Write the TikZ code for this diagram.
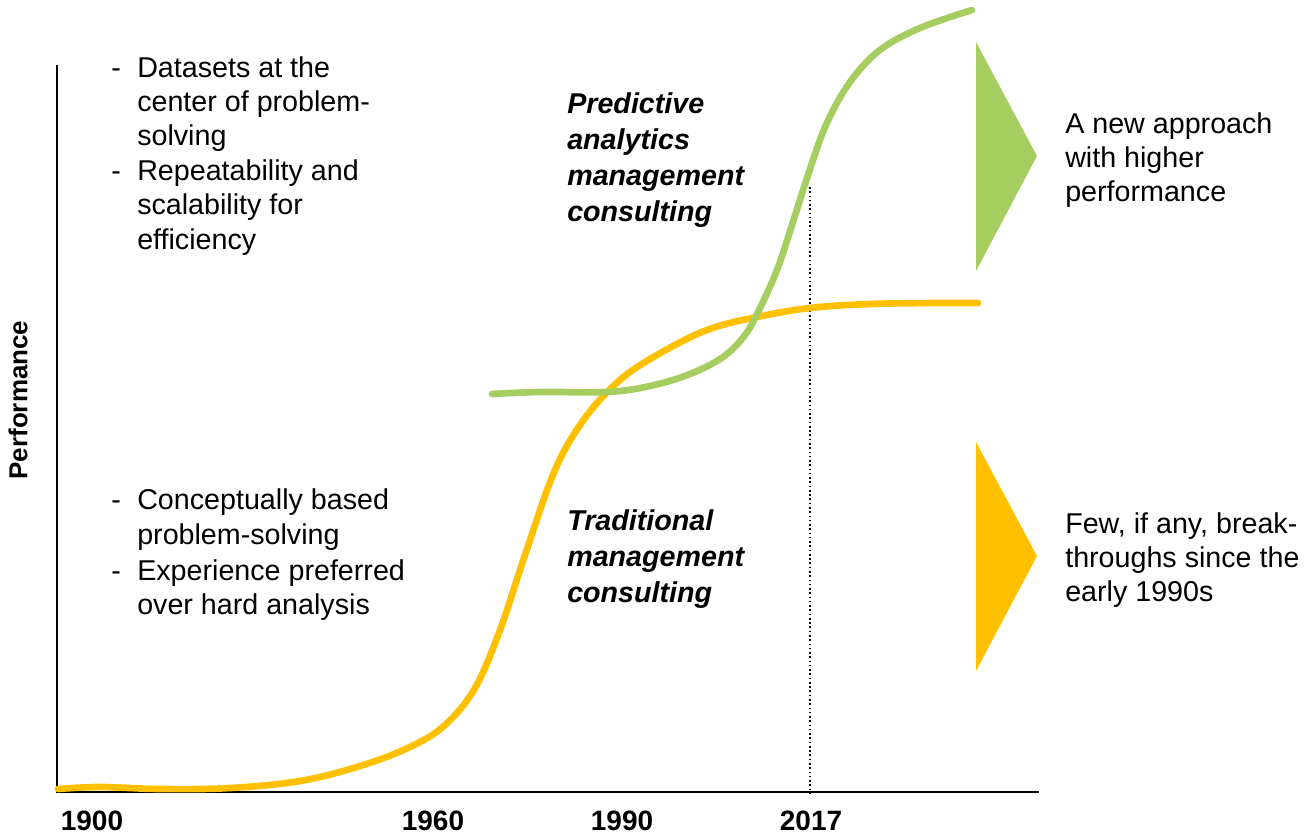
\documentclass[tikz,border=0pt]{standalone}
\usepackage{fontspec}
\setmainfont{Liberation Sans}
\definecolor{cgreen}{HTML}{A5CD5F}
\definecolor{cyellow}{HTML}{FFC000}
\begin{document}
\begin{tikzpicture}[x=0.75pt,y=-0.75pt,
  txt/.style={anchor=base west,inner sep=0pt,font=\fontsize{21.5}{25.5}\selectfont},
  btxt/.style={txt,font=\fontsize{21.5}{25.5}\selectfont\bfseries\itshape},
  yr/.style={anchor=base,inner sep=0pt,font=\fontsize{21}{25}\selectfont\bfseries},
  curve/.style={line width=5pt,line cap=round,line join=round}]
\useasboundingbox (0,0) rectangle (1309,836);
% axes
\coordinate (o) at (57,792);
\coordinate (ytop) at (57,65);
\coordinate (xend) at (1039,792);
\draw[line width=1.2pt] (ytop) -- (o) -- (xend);
\node[rotate=90,inner sep=0pt,font=\fontsize{19.5}{23}\selectfont\bfseries] (perf) at (18,400) {Performance};
% year labels
\node[yr] (y1900) at (92,830) {1900};
\node[yr] (y1960) at (433,830) {1960};
\node[yr] (y1990) at (622,830) {1990};
\node[yr] (y2017) at (811,830) {2017};
% dotted line
\coordinate (dtop) at (810,187);
\coordinate (dbot) at (810,795);
\draw[line width=1.2pt,dotted] (dtop) -- (dbot);
% yellow curve
\draw[curve,cyellow] plot[smooth,tension=0.6] coordinates {(58,789) (100,787) (160,789) (230,788) (300,781) (360,766) (410,747) (445,725) (475,688) (500,630) (525,555) (555,470) (585,418) (620,380) (657,355) (707,330) (757,317) (810,308) (870,304) (940,303) (978,303)};
% green curve
\draw[curve,cgreen] plot[smooth,tension=0.6] coordinates {(492,394) (540,392) (607,392) (650,386) (690,374) (723,357) (745,335) (760,308) (777,270) (792,225) (808,175) (826,125) (850,82) (880,50) (920,28) (972,10)};
% triangles
\fill[cgreen] (976,42) -- (1037,156) -- (976,271) -- cycle;
\fill[cyellow] (976,442) -- (1037,556) -- (976,671) -- cycle;
% right texts
\node[txt] (g1) at (1065,133) {A new approach};
\node[txt] (g2) at (1065,167) {with higher};
\node[txt] (g3) at (1065,201) {performance};
\node[txt] (f1) at (1065,533) {Few, if any, break-};
\node[txt] (f2) at (1065,567) {throughs since the};
\node[txt] (f3) at (1065,601) {early 1990s};
% curve labels
\node[btxt] (p1) at (567,113) {Predictive};
\node[btxt] (p2) at (567,149) {analytics};
\node[btxt] (p3) at (567,185) {management};
\node[btxt] (p4) at (567,221) {consulting};
\node[btxt] (t1) at (567,530) {Traditional};
\node[btxt] (t2) at (567,566) {management};
\node[btxt] (t3) at (567,602) {consulting};
% upper list
\node[txt] (d1) at (111,77) {-};
\node[txt] (a1) at (137,77) {Datasets at the};
\node[txt] (a2) at (137,111) {center of problem-};
\node[txt] (a3) at (137,145) {solving};
\node[txt] (d2) at (111,180) {-};
\node[txt] (a4) at (137,180) {Repeatability and};
\node[txt] (a5) at (137,214) {scalability for};
\node[txt] (a6) at (137,249) {efficiency};
% lower list
\node[txt] (d3) at (111,509) {-};
\node[txt] (b1) at (137,509) {Conceptually based};
\node[txt] (b2) at (137,544) {problem-solving};
\node[txt] (d4) at (111,580) {-};
\node[txt] (b3) at (137,580) {Experience preferred};
\node[txt] (b4) at (137,614) {over hard analysis};
\end{tikzpicture}
\end{document}
